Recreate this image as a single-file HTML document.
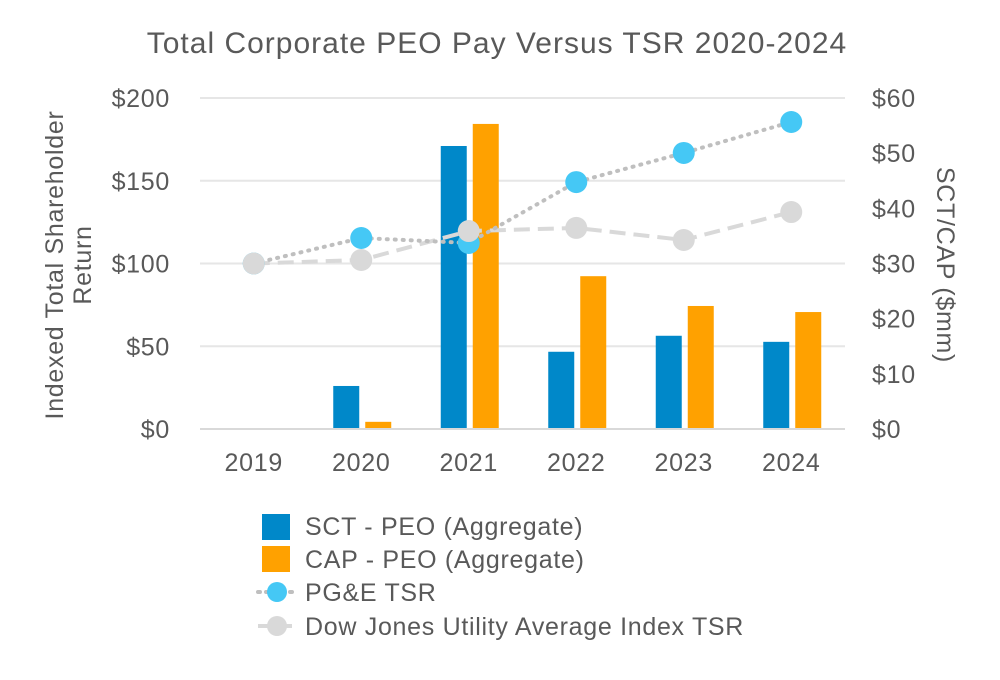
<!DOCTYPE html>
<html><head><meta charset="utf-8"><style>
body{margin:0;background:#fff;}
svg{display:block;font-family:"Liberation Sans",Arial,sans-serif;}
.t{font-size:25px;letter-spacing:0.7px;}
</style></head><body>
<svg id="c" width="1000" height="680">
<rect width="1000" height="680" fill="#fff"/>
<text x="497" y="53" text-anchor="middle" font-size="30" letter-spacing="1" fill="#595959">Total Corporate PEO Pay Versus TSR 2020-2024</text>
<g id="grid"></g><g id="bars"></g><g id="lines"></g><g id="axes"></g>
<text class="t" transform="translate(63,265) rotate(-90)" text-anchor="middle" fill="#595959"><tspan x="0" dy="0">Indexed Total Shareholder</tspan><tspan x="0" dy="28">Return</tspan></text>
<text class="t" transform="translate(937,265) rotate(90)" text-anchor="middle" fill="#595959">SCT/CAP ($mm)</text>
<g>
<rect x="262" y="514" width="28" height="26" fill="#0088c9"/>
<text class="t" x="305" y="535" fill="#595959">SCT - PEO (Aggregate)</text>
<rect x="262" y="546" width="28" height="26" fill="#ffa100"/>
<text class="t" x="305" y="568" fill="#595959">CAP - PEO (Aggregate)</text>
<line x1="258" y1="592" x2="296" y2="592" stroke="#bfbfbf" stroke-width="4" stroke-dasharray="2,6" stroke-linecap="round"/>
<circle cx="277" cy="592" r="10" fill="#45c8f5"/>
<text class="t" x="305" y="601" fill="#595959">PG&amp;E TSR</text>
<line x1="258" y1="626" x2="296" y2="626" stroke="#d9d9d9" stroke-width="4" stroke-dasharray="14,6"/>
<circle cx="277" cy="626" r="10" fill="#d9d9d9"/>
<text class="t" x="305" y="635" fill="#595959">Dow Jones Utility Average Index TSR</text>
</g>
</svg>
<script>
const categories=["2019","2020","2021","2022","2023","2024"];
const sct=[0,7.8,51.3,14.0,16.9,15.8];
const cap=[0,1.3,55.3,27.7,22.3,21.2];
const pge=[100,115.4,112.4,149.2,166.8,185.5];
const dj=[100,102.1,119.6,121.5,114.2,131.1];
const leftTicks=[0,50,100,150,200];
const rightTicks=[0,10,20,30,40,50,60];
const NS="http://www.w3.org/2000/svg";
const X0=200,X1=845,Y0=429,Y1=98;
const bw=(X1-X0)/categories.length;
const xc=i=>X0+bw*(i+0.5);
const yL=v=>Y0-(v/200)*(Y0-Y1);
const yR=v=>Y0-(v/60)*(Y0-Y1);
function mk(p,tag,a){const e=document.createElementNS(NS,tag);for(const k in a)e.setAttribute(k,a[k]);document.getElementById(p).appendChild(e);return e;}
leftTicks.forEach(t=>{
 if(t>0){const g=mk('grid','line',{x1:X0,x2:X1,y1:yL(t),y2:yL(t),stroke:'#e6e6e6','stroke-width':2});
 
 }
 const tx=mk('axes','text',{x:170,y:yL(t)+9,'text-anchor':'end',class:'t',fill:'#595959'});tx.textContent='$'+t;
 
 
});
rightTicks.forEach(t=>{
 const tx=mk('axes','text',{x:872,y:yR(t)+9,class:'t',fill:'#595959'});tx.textContent='$'+t;
 
 
});
const ax=mk('axes','line',{x1:X0,x2:X1,y1:Y0,y2:Y0,stroke:'#d9d9d9','stroke-width':2});


categories.forEach((c,i)=>{
 const tx=mk('axes','text',{x:xc(i),y:471,'text-anchor':'middle',class:'t',fill:'#595959'});tx.textContent=c;
 
 
 if(sct[i]>0){const b=mk('bars','rect',{x:xc(i)-28,y:yR(sct[i]),width:26,height:Y0-yR(sct[i]),fill:'#0088c9'});
 
 }
 if(cap[i]>0){const b=mk('bars','rect',{x:xc(i)+4,y:yR(cap[i]),width:26,height:Y0-yR(cap[i]),fill:'#ffa100'});
 
 }
});
const djl=mk('lines','polyline',{points:dj.map((v,i)=>xc(i)+','+yL(v)).join(' '),fill:'none',stroke:'#d9d9d9','stroke-width':4,'stroke-dasharray':'16,8'});


const pl=mk('lines','polyline',{points:pge.map((v,i)=>xc(i)+','+yL(v)).join(' '),fill:'none',stroke:'#bfbfbf','stroke-width':4,'stroke-dasharray':'1,7','stroke-linecap':'round'});


pge.forEach((v,i)=>{const p=mk('lines','circle',{cx:xc(i),cy:yL(v),r:11,fill:'#45c8f5'});
 
 });
dj.forEach((v,i)=>{const p=mk('lines','circle',{cx:xc(i),cy:yL(v),r:11,fill:'#d9d9d9'});
 
 });
</script>
</body></html>
